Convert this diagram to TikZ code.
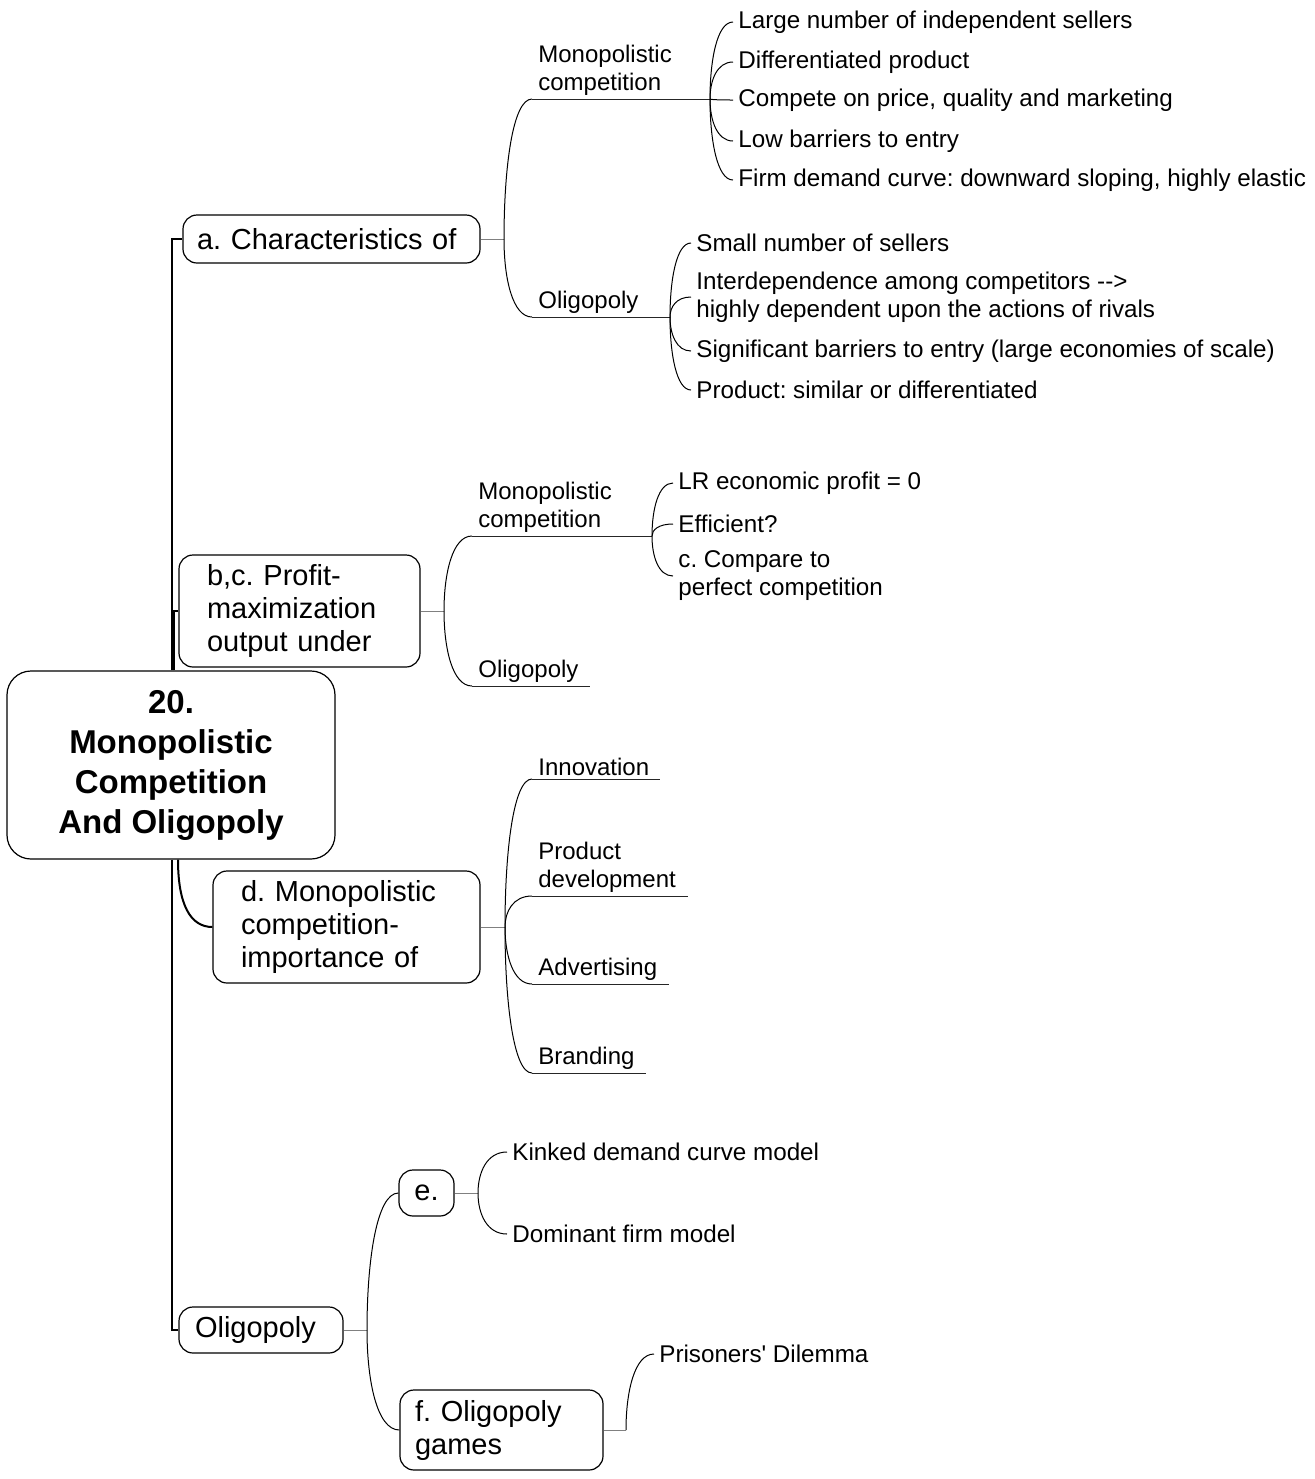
\documentclass[tikz,border=0pt]{standalone}
\usepackage{fontspec}
\setmainfont{Liberation Sans}
\usetikzlibrary{calc, positioning}
\frenchspacing

\tikzset{
  rootbox/.style={draw, line width=0.6pt, rounded corners=12pt, align=center,
    minimum width=164pt, minimum height=94pt,
    font=\fontsize{16.5}{20}\selectfont\bfseries},
  topicbox/.style={draw, line width=0.6pt, rounded corners=7pt, align=left,
    font=\fontsize{14.5}{16.5}\selectfont},
  subtopic/.style={anchor=south west, align=left, inner xsep=3pt, inner ysep=1.5pt,
    font=\fontsize{12}{14}\selectfont},
  leaf/.style={anchor=west, align=left, inner xsep=2.5pt, inner ysep=1pt,
    font=\fontsize{12.1}{14}\selectfont},
  trunk/.style={line width=1pt},
  stub/.style={draw=gray, line width=0.5pt},
  underline/.style={draw=black!85, line width=0.5pt},
  bough/.style={line width=0.5pt,
    to path={.. controls ($(\tikztostart)!0.5!(\tikztostart|-\tikztotarget)$)
      and ($(\tikztostart|-\tikztotarget)!0.3!(\tikztotarget)$) .. (\tikztotarget)}},
}

\begin{document}
\begin{tikzpicture}[x=0.5pt, y=-0.5pt]

    \useasboundingbox (0,0) rectangle (1314,1479);

    % =================================================================
    % 1. JUNCTION POINTS
    % =================================================================
    \coordinate (jA) at (504,239);
    \coordinate (jMA) at (710,99);
    \coordinate (jOA) at (670,317);
    \coordinate (jB) at (444,611);
    \coordinate (jMB) at (652,536);
    \coordinate (jD) at (505,927);
    \coordinate (jOl) at (367,1330);
    \coordinate (jE) at (478,1193);
    \coordinate (jF) at (626,1430);

    % ends of the underlines with no children
    \coordinate (uOB) at (590,686);
    \coordinate (uInno) at (660,779);
    \coordinate (uProd) at (688,896);
    \coordinate (uAdv) at (669,984);
    \coordinate (uBrand) at (646,1073);

    % =================================================================
    % 2. ROOT AND TOPIC BOXES
    % =================================================================
    \node[rootbox] (root) at (171,765) {20.\\Monopolistic\\Competition\\And Oligopoly};

    \node[topicbox, inner xsep=7pt, text width=134.5pt, minimum height=24pt] (abox) at (331.5,239) {a. Characteristics of};
    \node[topicbox, inner xsep=14pt, text width=92.5pt, minimum height=56pt] (bcbox) at (299.5,611) {b,c. Profit-\\maximization\\output under};
    \node[topicbox, inner xsep=14pt, text width=105.5pt, minimum height=56pt] (dbox) at (346.5,927) {d. Monopolistic\\competition-\\importance of};
    \node[topicbox, inner xsep=8pt, text width=66pt, minimum height=23pt] (oligbox) at (261,1330) {Oligopoly};
    \node[topicbox, inner xsep=7pt, text width=13.5pt, minimum height=23pt, align=center] (ebox) at (426.5,1193) {e.};
    \node[topicbox, inner xsep=7.5pt, text width=86.5pt, minimum height=40pt] (fbox) at (501.5,1430) {f. Oligopoly\\games};

    % =================================================================
    % 3. UNDERLINED SUBTOPICS
    % =================================================================
    \node[subtopic] (mcA) at (532,99) {Monopolistic\\competition};
    \node[subtopic] (olA) at (532,317) {Oligopoly};
    \node[subtopic] (mcB) at (472,536) {Monopolistic\\competition};
    \node[subtopic] (olB) at (472,686) {Oligopoly};
    \node[subtopic] (inno) at (532,779) {Innovation};
    \node[subtopic] (prod) at (532,896) {Product\\development};
    \node[subtopic] (adv) at (532,984) {Advertising};
    \node[subtopic] (brand) at (532,1073) {Branding};

    % =================================================================
    % 4. LEAVES
    % =================================================================
    \node[leaf] (large) at (733,22) {Large number of independent sellers};
    \node[leaf] (diff) at (733,62) {Differentiated product};
    \node[leaf] (compete) at (733,100) {Compete on price, quality and marketing};
    \node[leaf] (low) at (733,141) {Low barriers to entry};
    \node[leaf] (firm) at (733,180) {Firm demand curve: downward sloping, highly elastic};

    \node[leaf] (small) at (691,243) {Small number of sellers};
    \node[leaf] (inter) at (691,297) {Interdependence among competitors \mbox{-}\mbox{-}>\\highly dependent upon the actions of rivals};
    \node[leaf] (signif) at (691,351) {Significant barriers to entry (large economies of scale)};
    \node[leaf] (product) at (691,390) {Product: similar or differentiated};

    \node[leaf] (lr) at (673,483) {LR economic profit = 0};
    \node[leaf] (effic) at (673,524) {Efficient?};
    \node[leaf] (compare) at (673,576) {c. Compare to\\perfect competition};

    \node[leaf] (kinked) at (507,1152) {Kinked demand curve model};
    \node[leaf] (domin) at (507,1234) {Dominant firm model};
    \node[leaf] (prison) at (654,1354) {Prisoners\textquotesingle{} Dilemma};

    % =================================================================
    % 5. CONNECTORS
    % =================================================================
    % main branches out of the root
    \draw[trunk] ([xshift=0.5pt]root.north) |- (abox.west);
    \draw[trunk] ([xshift=1.5pt]root.north) |- (bcbox.west);
    \draw[trunk] ([xshift=3.5pt]root.south) .. controls +(0,45) and +(-22,0) .. (dbox.west);
    \draw[trunk] ([xshift=0.5pt]root.south) |- (oligbox.west);

    % short grey stubs out of the boxes
    \draw[stub] (abox.east) -- (jA);
    \draw[stub] (bcbox.east) -- (jB);
    \draw[stub] (dbox.east) -- (jD);
    \draw[stub] (oligbox.east) -- (jOl);
    \draw[stub] (ebox.east) -- (jE);
    \draw[stub] (fbox.east) -- (jF);

    % curves to the subtopics and their underlines
    \draw[bough] (jA) to (mcA.south west);
    \draw[bough] (jA) to (olA.south west);
    \draw[underline] (mcA.south west) -- (jMA);
    \draw[underline] (olA.south west) -- (jOA);

    \draw[bough] (jB) to (mcB.south west);
    \draw[bough] (jB) to (olB.south west);
    \draw[underline] (mcB.south west) -- (jMB);
    \draw[underline] (olB.south west) -- (uOB);

    \draw[bough] (jD) to (inno.south west);
    \draw[bough] (jD) to (prod.south west);
    \draw[bough] (jD) to (adv.south west);
    \draw[bough] (jD) to (brand.south west);
    \draw[underline] (inno.south west) -- (uInno);
    \draw[underline] (prod.south west) -- (uProd);
    \draw[underline] (adv.south west) -- (uAdv);
    \draw[underline] (brand.south west) -- (uBrand);

    \draw[bough] (jOl) to (ebox.west);
    \draw[bough] (jOl) to (fbox.west);

    % curves to the leaves
    \draw[bough] (jMA) to (large.west);
    \draw[bough] (jMA) to (diff.west);
    \draw[bough] (jMA) to (compete.west);
    \draw[bough] (jMA) to (low.west);
    \draw[bough] (jMA) to (firm.west);

    \draw[bough] (jOA) to (small.west);
    \draw[bough] (jOA) to (inter.west);
    \draw[bough] (jOA) to (signif.west);
    \draw[bough] (jOA) to (product.west);

    \draw[bough] (jMB) to (lr.west);
    \draw[bough] (jMB) to (effic.west);
    \draw[bough] (jMB) to (compare.west);

    \draw[bough] (jE) to (kinked.west);
    \draw[bough] (jE) to (domin.west);
    \draw[bough] (jF) to (prison.west);

\end{tikzpicture}
\end{document}
